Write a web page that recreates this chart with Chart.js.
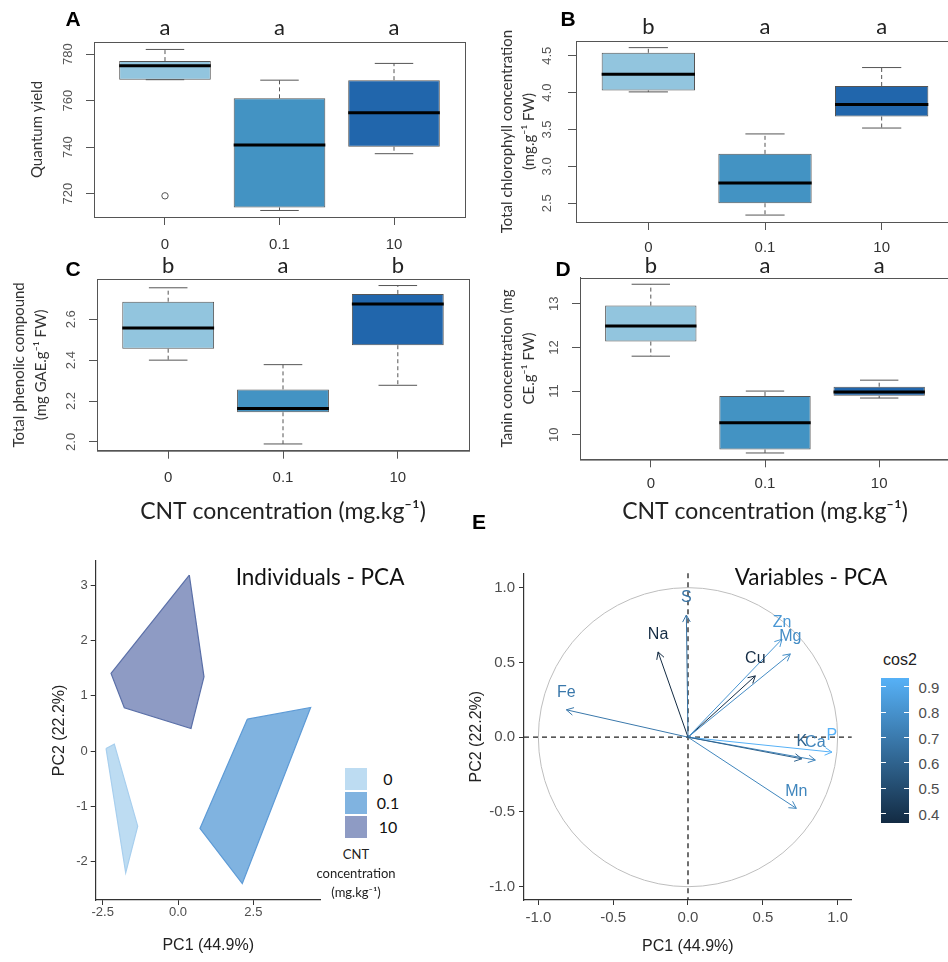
<!DOCTYPE html>
<html>
<head>
<meta charset="utf-8">
<script src="https://cdn.jsdelivr.net/npm/chart.js@4"></script>
<style>
  body { margin: 0; width: 948px; height: 962px; position: relative; overflow: hidden; background: #fff; font-family: Lato, sans-serif; }
  canvas { position: absolute; }
  .t { position: absolute; white-space: nowrap; transform: translate(-50%, -50%); line-height: 1; }
  .sq { position: absolute; }
</style>
</head>
<body>
<canvas id="cA" width="470" height="262" style="left:0;top:0"></canvas>
<canvas id="cB" width="484" height="262" style="left:470px;top:0"></canvas>
<canvas id="cC" width="472" height="283" style="left:0;top:252px"></canvas>
<canvas id="cD" width="480" height="283" style="left:470px;top:252px"></canvas>
<canvas id="cInd" width="325" height="412" style="left:0;top:550px"></canvas>
<canvas id="cVar" width="398" height="412" style="left:462px;top:550px"></canvas>
<script>
// ---- data ----
const groups = ['0', '0.1', '10'];
const boxColors = ['#92C5DE', '#4393C3', '#2166AC'];

// A - quantum yield
const qyLow = [769, 712.8, 737.2];
const qyQ1 = [769, 714.1, 740.2];
const qyMed = [775, 740.9, 754.8];
const qyQ3 = [777, 761, 768.8];
const qyHigh = [782, 768.8, 776];
const qyOutGroup = ['0'];
const qyOutVal = [719.1];
const qyLetters = ['a', 'a', 'a'];
const qyTicks = [720, 740, 760, 780];

// B - total chlorophyll
const chlLow = [4.01, 2.34, 3.52];
const chlQ1 = [4.03, 2.50, 3.676];
const chlMed = [4.25, 2.776, 3.84];
const chlQ3 = [4.54, 3.17, 4.09];
const chlHigh = [4.61, 3.44, 4.34];
const chlLetters = ['b', 'a', 'a'];
const chlTicks = [2.5, 3.0, 3.5, 4.0, 4.5];

// C - total phenolic compound
const phLow = [2.40, 1.99, 2.277];
const phQ1 = [2.456, 2.145, 2.473];
const phMed = [2.557, 2.163, 2.675];
const phQ3 = [2.686, 2.257, 2.724];
const phHigh = [2.754, 2.378, 2.765];
const phLetters = ['b', 'a', 'b'];
const phTicks = [2.0, 2.2, 2.4, 2.6];

// D - tanin
const tanLow = [11.80, 9.58, 10.84];
const tanQ1 = [12.135, 9.66, 10.89];
const tanMed = [12.495, 10.275, 10.98];
const tanQ3 = [12.96, 10.888, 11.10];
const tanHigh = [13.45, 11.0, 11.25];
const tanLetters = ['b', 'a', 'a'];
const tanTicks = [10, 11, 12, 13];

// E - individuals PCA (hull vertices)
const hull0X = [-2.39, -2.115, -1.338, -1.737];
const hull0Y = [0.049, 0.126, -1.356, -2.2];
const hull01X = [2.30, 4.403, 2.134, 0.729];
const hull01Y = [0.578, 0.789, -2.392, -1.397];
const hull10X = [0.375, 0.862, 0.431, -1.783, -2.224];
const hull10Y = [3.18, 1.343, 0.41, 0.783, 1.404];
const hullFill = ['#BDDCF2', '#80B3E0', '#8E9BC4'];
const hullLine = ['#A8CFEE', '#5E9BD6', '#5B70A8'];
const indXTicks = [-2.5, 0, 2.5];
const indYTicks = [-2, -1, 0, 1, 2, 3];

// E - variables PCA
const varNames = ['S', 'Na', 'Zn', 'Mg', 'Cu', 'Fe', 'K', 'Ca', 'P', 'Mn'];
const varPC1 = [-0.011, -0.20, 0.628, 0.684, 0.45, -0.813, 0.76, 0.851, 0.962, 0.724];
const varPC2 = [0.817, 0.57, 0.655, 0.557, 0.41, 0.183, -0.145, -0.153, -0.10, -0.476];
const varTicks = [-1.0, -0.5, 0.0, 0.5, 1.0];
const cosTicks = [0.4, 0.5, 0.6, 0.7, 0.8, 0.9];

Chart.defaults.font.family = "'Liberation Sans', Arial, sans-serif";
Chart.defaults.animation = false;

// whiskers, medians and the box frame, all through the chart scales
const boxExtras = {
  id: 'boxExtras',
  afterDatasetsDraw(chart) {
    const ds = chart.data.datasets[0];
    const meta = chart.getDatasetMeta(0);
    const yS = chart.scales.y;
    const ctx = chart.ctx;
    const line = (x1, y1, x2, y2) => { ctx.beginPath(); ctx.moveTo(x1, y1); ctx.lineTo(x2, y2); ctx.stroke(); };
    ctx.save();
    meta.data.forEach((bar, i) => {
      const half = bar.width / 2;
      const cap = bar.width * 0.21;
      const yq1 = yS.getPixelForValue(ds.data[i].y[0]);
      const yq3 = yS.getPixelForValue(ds.data[i].y[1]);
      const yLo = yS.getPixelForValue(ds.low[i]);
      const yHi = yS.getPixelForValue(ds.high[i]);
      const yMd = yS.getPixelForValue(ds.med[i]);
      ctx.strokeStyle = '#555';
      ctx.lineWidth = 1;
      ctx.setLineDash([4, 3]);
      line(bar.x, yq3, bar.x, yHi);
      line(bar.x, yq1, bar.x, yLo);
      ctx.setLineDash([]);
      line(bar.x - cap, yHi, bar.x + cap, yHi);
      line(bar.x - cap, yLo, bar.x + cap, yLo);
      ctx.strokeStyle = '#000';
      ctx.lineWidth = 3;
      line(bar.x - half, yMd, bar.x + half, yMd);
    });
    const a = chart.chartArea;
    ctx.strokeStyle = '#555';
    ctx.lineWidth = 1;
    ctx.strokeRect(Math.round(a.left) + 0.5, Math.round(a.top) + 0.5, a.right - a.left, a.bottom - a.top);
    ctx.restore();
  }
};

function boxChart(id, d) {
  const datasets = [{
    type: 'bar',
    data: groups.map((g, i) => ({ x: i + 1, y: [d.q1[i], d.q3[i]] })),
    low: d.low, high: d.high, med: d.med,
    backgroundColor: boxColors,
    borderColor: '#555',
    borderWidth: 1,
    borderSkipped: false,
    barPercentage: 1,
    categoryPercentage: 0.8
  }];
  if (d.outVal) {
    datasets.push({
      type: 'scatter',
      data: d.outVal.map((v, i) => ({ x: groups.indexOf(d.outGroup[i]) + 1, y: v })),
      pointRadius: 3.2,
      borderColor: '#555',
      backgroundColor: 'rgba(0,0,0,0)',
      borderWidth: 1
    });
  }
  const catTicks = s => { s.ticks = groups.map((g, i) => ({ value: i + 1 })); };
  new Chart(document.getElementById(id), {
    type: 'bar',
    data: { datasets },
    options: {
      responsive: false,
      layout: { padding: { left: 0, right: d.padR, top: 0, bottom: 0 } },
      plugins: { legend: { display: false }, tooltip: { enabled: false } },
      scales: {
        x: {
          type: 'linear', position: 'bottom', min: 0.38, max: 3.62, offset: false,
          afterBuildTicks: catTicks,
          afterFit: s => { s.height = d.bottomH; },
          ticks: { callback: (v, i) => groups[i], padding: d.xTickPad, font: { size: 15 }, color: '#333', maxRotation: 0, autoSkip: false },
          grid: { display: true, offset: false, drawOnChartArea: false, drawTicks: true, tickLength: 8, color: '#555' },
          border: { display: true, color: '#555' },
          title: { display: !!d.xTitle, text: d.xTitle, font: { family: 'Lato', size: 23 }, color: '#222', padding: { top: 0, bottom: d.xTitlePad } }
        },
        xTop: {
          type: 'linear', position: 'top', min: 0.38, max: 3.62, offset: false,
          afterBuildTicks: catTicks,
          afterFit: s => { s.height = d.topH; },
          ticks: { callback: (v, i) => d.letters[i], padding: d.letterPad, font: { family: 'Lato', size: 22, lineHeight: 1 }, color: '#222', maxRotation: 0, autoSkip: false },
          grid: { display: false, drawTicks: false },
          border: { display: false }
        },
        y: {
          type: 'linear', min: d.yMin, max: d.yMax, beginAtZero: false,
          afterBuildTicks: s => { s.ticks = d.ticks.map(v => ({ value: v })); },
          afterFit: s => { s.width = d.leftW; },
          ticks: { callback: v => v.toFixed(d.dec), minRotation: 90, maxRotation: 90, crossAlign: 'center', padding: d.yTickPad, font: { size: 13 }, color: '#555' },
          grid: { display: true, drawOnChartArea: false, drawTicks: true, tickLength: 8, color: '#555' },
          border: { display: true, color: '#555' },
          title: { display: true, text: d.yTitle, font: { family: 'Lato', size: 15, lineHeight: 1.5 }, color: '#333', padding: { top: d.yTitlePad, bottom: 0 } }
        }
      }
    },
    plugins: [boxExtras]
  });
}

boxChart('cA', {
  low: qyLow, q1: qyQ1, med: qyMed, q3: qyQ3, high: qyHigh, outGroup: qyOutGroup, outVal: qyOutVal,
  letters: qyLetters, ticks: qyTicks, dec: 0, yMin: 710, yMax: 785.2,
  yTitle: 'Quantum yield', leftW: 94, topH: 42, bottomH: 45, padR: 3,
  yTickPad: 7, yTitlePad: 25.75, xTickPad: 11, letterPad: 3
});
boxChart('cB', {
  low: chlLow, q1: chlQ1, med: chlMed, q3: chlQ3, high: chlHigh,
  letters: chlLetters, ticks: chlTicks, dec: 1, yMin: 2.246, yMax: 4.70,
  yTitle: ['Total chlorophyll concentration', '(mg.g\u207B\u00B9 FW)'], leftW: 106, topH: 41, bottomH: 40, padR: 0,
  yTickPad: 12, yTitlePad: 25.75, xTickPad: 9, letterPad: 3
});
boxChart('cC', {
  low: phLow, q1: phQ1, med: phMed, q3: phQ3, high: phHigh,
  letters: phLetters, ticks: phTicks, dec: 1, yMin: 1.957, yMax: 2.797,
  yTitle: ['Total phenolic compound', '(mg GAE.g\u207B\u00B9 FW)'], leftW: 97, topH: 27, bottomH: 84.3, padR: 3,
  yTickPad: 9, yTitlePad: 7.75, xTickPad: 10, letterPad: 2,
  xTitle: 'CNT concentration (mg.kg\u207B\u00B9)', xTitlePad: 9.2
});
boxChart('cD', {
  low: tanLow, q1: tanQ1, med: tanMed, q3: tanQ3, high: tanHigh,
  letters: tanLetters, ticks: tanTicks, dec: 0, yMin: 9.435, yMax: 13.60,
  yTitle: ['Tanin concentration (mg', 'CE.g\u207B\u00B9 FW)'], leftW: 110, topH: 25.7, bottomH: 75.7, padR: 0,
  yTickPad: 10, yTitlePad: 25.5, xTickPad: 8, letterPad: 1,
  xTitle: 'CNT concentration (mg.kg\u207B\u00B9)', xTitlePad: 9.2
});

// ---- individuals PCA ----
function hull(xs, ys) {
  const pts = xs.map((x, i) => ({ x, y: ys[i] }));
  pts.push(pts[0]);
  return pts;
}
const hulls = [hull(hull0X, hull0Y), hull(hull01X, hull01Y), hull(hull10X, hull10Y)];

function pcaAxes(o) {
  const axis = (min, max, ticks, dec, pad, title, titlePad, size, fitFn) => ({
    type: 'linear', min, max,
    afterBuildTicks: s => { s.ticks = ticks.map(v => ({ value: v })); },
    afterFit: fitFn,
    ticks: { callback: v => v.toFixed(dec), padding: pad, font: { size }, color: '#4D4D4D' },
    grid: { display: true, drawOnChartArea: false, drawTicks: true, tickLength: 5, color: '#333' },
    border: { display: true, color: '#333', width: 1.2 },
    title: { display: true, text: title, font: { size: 16 }, color: '#222', padding: { top: titlePad, bottom: titlePad } }
  });
  return {
    x: axis(o.xMin, o.xMax, o.xTicks, o.xDec, o.xTickPad, 'PC1 (44.9%)', o.xTitlePad, o.size, s => { s.height = 62; }),
    y: axis(o.yMin, o.yMax, o.yTicks, o.yDec, o.yTickPad, 'PC2 (22.2%)', o.yTitlePad, o.size, s => { s.width = o.leftW; })
  };
}

new Chart(document.getElementById('cInd'), {
  type: 'scatter',
  data: {
    datasets: hulls.map((h, i) => ({
      type: 'line', data: h, showLine: true, fill: 'shape', tension: 0,
      backgroundColor: hullFill[i], borderColor: hullLine[i], borderWidth: 1.2, pointRadius: 0
    }))
  },
  options: {
    responsive: false,
    layout: { padding: { left: 0, right: 4.3, top: 10.7, bottom: 0 } },
    plugins: { legend: { display: false }, tooltip: { enabled: false } },
    scales: pcaAxes({
      xMin: -2.733, xMax: 4.737, xTicks: indXTicks, xDec: 1, xTickPad: 0, xTitlePad: 6.4,
      yMin: -2.69, yMax: 3.44, yTicks: indYTicks, yDec: 0, yTickPad: 3, yTitlePad: 50.4,
      leftW: 95.7, size: 13
    })
  }
});

// ---- variables PCA ----
const cosVals = varPC1.map((x, i) => x * x + varPC2[i] * varPC2[i]);
const cosMin = Math.min(...cosVals), cosMax = Math.max(...cosVals);
const lowRGB = [19, 43, 67], highRGB = [86, 177, 247];
function cosColor(c) {
  const t = (c - cosMin) / (cosMax - cosMin);
  const rgb = lowRGB.map((v, k) => Math.round(v + (highRGB[k] - v) * t));
  return `rgb(${rgb.join(',')})`;
}
const varColors = cosVals.map(cosColor);

const pcaVarExtras = {
  id: 'pcaVarExtras',
  beforeDatasetsDraw(chart) {
    const { ctx, chartArea: a, scales: { x, y } } = chart;
    const x0 = x.getPixelForValue(0), y0 = y.getPixelForValue(0);
    const rx = x.getPixelForValue(1) - x0, ry = y0 - y.getPixelForValue(1);
    ctx.save();
    ctx.strokeStyle = '#BEBEBE';
    ctx.lineWidth = 1;
    ctx.beginPath();
    ctx.ellipse(x0, y0, rx, ry, 0, 0, 2 * Math.PI);
    ctx.stroke();
    ctx.strokeStyle = '#222';
    ctx.lineWidth = 1.3;
    ctx.setLineDash([5, 4]);
    ctx.beginPath(); ctx.moveTo(a.left, y0); ctx.lineTo(a.right, y0); ctx.stroke();
    ctx.beginPath(); ctx.moveTo(x0, a.top); ctx.lineTo(x0, a.bottom); ctx.stroke();
    ctx.restore();
  },
  afterDatasetsDraw(chart) {
    const { ctx, scales: { x, y } } = chart;
    const x0 = x.getPixelForValue(0), y0 = y.getPixelForValue(0);
    ctx.save();
    ctx.font = "16px 'Liberation Sans', Arial, sans-serif";
    ctx.textAlign = 'center';
    ctx.textBaseline = 'middle';
    varNames.forEach((name, i) => {
      const tx = x.getPixelForValue(varPC1[i]), ty = y.getPixelForValue(varPC2[i]);
      const ang = Math.atan2(ty - y0, tx - x0);
      ctx.strokeStyle = varColors[i];
      ctx.lineWidth = 1;
      ctx.beginPath();
      ctx.moveTo(tx - 8 * Math.cos(ang - 0.5), ty - 8 * Math.sin(ang - 0.5));
      ctx.lineTo(tx, ty);
      ctx.lineTo(tx - 8 * Math.cos(ang + 0.5), ty - 8 * Math.sin(ang + 0.5));
      ctx.stroke();
      ctx.fillStyle = varColors[i];
      ctx.fillText(name, tx, ty - 17);
    });
    ctx.restore();
  }
};

new Chart(document.getElementById('cVar'), {
  type: 'scatter',
  data: {
    datasets: varNames.map((n, i) => ({
      type: 'line', label: n,
      data: [{ x: 0, y: 0 }, { x: varPC1[i], y: varPC2[i] }],
      borderColor: varColors[i], borderWidth: 1, pointRadius: 0, fill: false
    }))
  },
  options: {
    responsive: false,
    layout: { padding: { left: 0, right: 8.3, top: 23.3, bottom: 0 } },
    plugins: { legend: { display: false }, tooltip: { enabled: false } },
    scales: pcaAxes({
      xMin: -1.096, xMax: 1.094, xTicks: varTicks, xDec: 1, xTickPad: 3.7, xTitlePad: 5.7,
      yMin: -1.089, yMax: 1.096, yTicks: varTicks, yDec: 1, yTickPad: 4, yTitlePad: 5.4,
      leftW: 62, size: 15
    })
  },
  plugins: [pcaVarExtras]
});

// ---- HTML texts and legends ----
function addText(text, cx, cy, css) {
  const el = document.createElement('div');
  el.className = 't';
  el.textContent = text;
  el.style.left = cx + 'px';
  el.style.top = cy + 'px';
  Object.assign(el.style, css || {});
  document.body.appendChild(el);
  return el;
}
const panelFont = { fontFamily: "'Liberation Sans', Arial, sans-serif", fontWeight: 'bold', fontSize: '21px', color: '#000' };
addText('A', 73, 18, panelFont);
addText('B', 568, 18, panelFont);
addText('C', 73, 268, panelFont);
addText('D', 563, 268, panelFont);
addText('E', 479, 521, panelFont);

addText('Individuals - PCA', 320, 577, { fontSize: '22.5px', color: '#111' });
addText('Variables - PCA', 811, 577, { fontSize: '22.5px', color: '#111' });

// individuals legend
groups.forEach((g, i) => {
  const sq = document.createElement('div');
  sq.className = 'sq';
  Object.assign(sq.style, { left: '345px', top: (768 + i * 24) + 'px', width: '22px', height: '22px', background: hullFill[i] });
  document.body.appendChild(sq);
  addText(g, 388, 779 + i * 24, { fontSize: '16px', color: '#111' });
});
addText('CNT', 356, 854, { fontSize: '13px', color: '#222' });
addText('concentration', 356, 873, { fontSize: '13px', color: '#222' });
addText('(mg.kg\u207B\u00B9)', 356, 892, { fontSize: '13px', color: '#222' });

// cos2 colour bar
const cbTop = 677.7, cbH = 145, cbLeft = 880.7, cbW = 28.6;
const bar = document.createElement('div');
bar.className = 'sq';
Object.assign(bar.style, {
  left: cbLeft + 'px', top: cbTop + 'px', width: cbW + 'px', height: cbH + 'px',
  background: `linear-gradient(to top, ${cosColor(cosMin)}, ${cosColor(cosMax)})`
});
document.body.appendChild(bar);
addText('cos2', 900, 660, { fontFamily: "'Liberation Sans', Arial, sans-serif", fontSize: '16px', color: '#222' });
cosTicks.forEach(v => {
  const ty = cbTop + (cosMax - v) / (cosMax - cosMin) * cbH;
  [0, cbW - 5].forEach(off => {
    const tk = document.createElement('div');
    tk.className = 'sq';
    Object.assign(tk.style, { left: (cbLeft + off) + 'px', top: (ty - 0.5) + 'px', width: '5px', height: '1px', background: '#fff' });
    document.body.appendChild(tk);
  });
  addText(v.toFixed(1), 929, ty, { fontFamily: "'Liberation Sans', Arial, sans-serif", fontSize: '15px', color: '#4D4D4D' });
});
</script>
</body>
</html>
